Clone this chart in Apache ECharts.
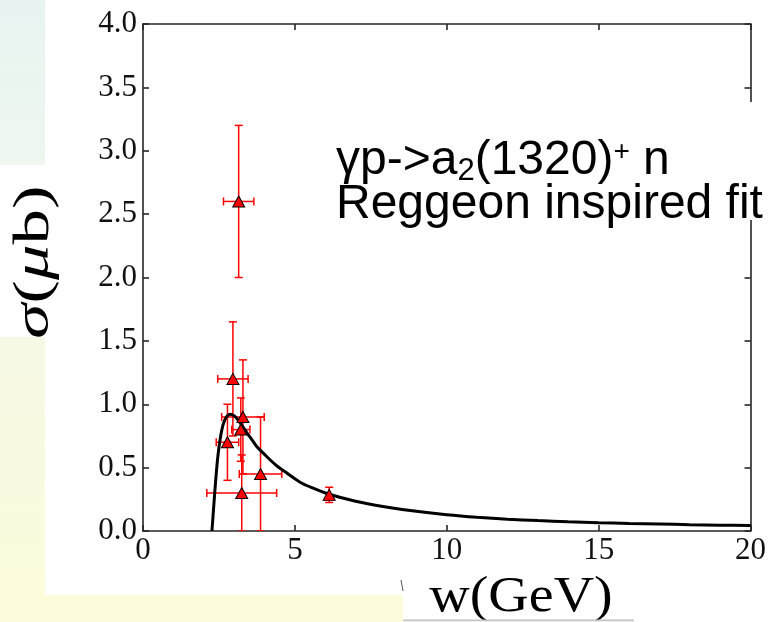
<!DOCTYPE html>
<html>
<head>
<meta charset="utf-8">
<script src="https://cdn.jsdelivr.net/npm/echarts@6/dist/echarts.min.js"></script>
<style>
  html, body { margin: 0; padding: 0; background: #ffffff; }
  #chart { width: 769px; height: 622px; }
</style>
</head>
<body>
<div id="chart"></div>
<script>
// Measured cross sections: centre-of-mass energy w (GeV), sigma (µb) and their errors
const wGeV      = [3.15, 2.96, 3.29, 3.22, 2.78, 3.25, 3.87, 6.13];
const sigma     = [2.60, 1.20, 0.90, 0.80, 0.70, 0.30, 0.45, 0.285];
const wErr      = [0.50, 0.50, 0.70, 0.30, 0.37, 1.15, 0.70, 0.00];
const sigmaErr  = [0.60, 0.45, 0.45, 0.25, 0.30, 0.30, 0.45, 0.06];

// Reggeon-inspired fit curve
const fitW     = [2.27, 2.33, 2.40, 2.47, 2.55, 2.65, 2.76, 2.87, 3.00, 3.10, 3.25, 3.42, 3.60, 3.75, 4.00, 4.19, 4.40, 4.63, 5.17, 5.60, 6.13, 7.00, 8.00, 9.00, 10.0, 11.0, 12.0, 13.0, 14.0, 15.0, 16.0, 17.0, 18.0, 19.0, 20.0];
const fitSigma = [0.00, 0.20, 0.42, 0.60, 0.74, 0.85, 0.905, 0.922, 0.91, 0.885, 0.835, 0.775, 0.715, 0.665, 0.605, 0.56, 0.515, 0.475, 0.385, 0.338, 0.29, 0.235, 0.19, 0.155, 0.128, 0.108, 0.093, 0.082, 0.073, 0.066, 0.060, 0.055, 0.050, 0.046, 0.043];

// Axis ranges and tick spacing
const xRange = [0, 20], xStep = 5;
const yRange = [0, 4], yStep = 0.5;

const points = wGeV.map((w, i) => [w, sigma[i], wErr[i], sigmaErr[i]]);
const fitLine = fitW.map((w, i) => [w, fitSigma[i]]);

const spine = { color: '#262626', width: 1.6 };
const serif = 'Liberation Serif';

function axisBase(extra) {
  return Object.assign({
    type: 'value',
    axisLine: { show: true, onZero: false, lineStyle: spine },
    axisTick: { show: true, inside: true, length: 6, lineStyle: spine },
    splitLine: { show: false }
  }, extra);
}

const chart = echarts.init(document.getElementById('chart'), null, { renderer: 'canvas' });

chart.setOption({
  backgroundColor: '#ffffff',
  animation: false,
  grid: { left: 143, right: 18, top: 24, bottom: 91, containLabel: false },
  xAxis: [
    axisBase({
      min: xRange[0], max: xRange[1], interval: xStep, position: 'bottom',
      axisLabel: { fontFamily: serif, fontSize: 31, color: '#111', margin: 4,
                   formatter: v => String(v) }
    }),
    axisBase({
      min: xRange[0], max: xRange[1], interval: xStep, position: 'top',
      axisLabel: { show: false }
    })
  ],
  yAxis: [
    axisBase({
      min: yRange[0], max: yRange[1], interval: yStep, position: 'left',
      axisLabel: { fontFamily: serif, fontSize: 31, color: '#111', margin: 6,
                   formatter: v => v.toFixed(1) }
    }),
    axisBase({
      min: yRange[0], max: yRange[1], interval: yStep, position: 'right',
      axisLabel: { show: false }
    })
  ],
  series: [
    {
      // error bars with caps
      type: 'custom',
      z: 2,
      clip: true,
      data: points,
      renderItem: function (params, api) {
        const x = api.value(0), y = api.value(1), ex = api.value(2), ey = api.value(3);
        const cap = 4;
        const style = { stroke: '#ff0000', lineWidth: 1.5 };
        const kids = [];
        if (ey > 0) {
          const t = api.coord([x, y + ey]);
          const b = api.coord([x, y - ey]);
          kids.push({ type: 'line', shape: { x1: t[0], y1: t[1], x2: b[0], y2: b[1] }, style });
          kids.push({ type: 'line', shape: { x1: t[0] - cap, y1: t[1], x2: t[0] + cap, y2: t[1] }, style });
          kids.push({ type: 'line', shape: { x1: b[0] - cap, y1: b[1], x2: b[0] + cap, y2: b[1] }, style });
        }
        if (ex > 0) {
          const l = api.coord([x - ex, y]);
          const r = api.coord([x + ex, y]);
          kids.push({ type: 'line', shape: { x1: l[0], y1: l[1], x2: r[0], y2: r[1] }, style });
          kids.push({ type: 'line', shape: { x1: l[0], y1: l[1] - cap, x2: l[0], y2: l[1] + cap }, style });
          kids.push({ type: 'line', shape: { x1: r[0], y1: r[1] - cap, x2: r[0], y2: r[1] + cap }, style });
        }
        return { type: 'group', children: kids };
      }
    },
    {
      type: 'line',
      z: 3,
      data: fitLine,
      showSymbol: false,
      smooth: 0.3,
      lineStyle: { color: '#000000', width: 3 },
      clip: true
    },
    {
      type: 'scatter',
      z: 4,
      data: points.map(p => [p[0], p[1]]),
      symbol: 'triangle',
      symbolSize: [12, 11],
      itemStyle: { color: '#ff0000', borderColor: '#000000', borderWidth: 1, opacity: 1 }
    }
  ],
  graphic: [
    // slide background strips around the figure
    {
      type: 'rect', z: -10, silent: true,
      shape: { x: 0, y: 0, width: 45, height: 595 },
      style: {
        fill: new echarts.graphic.LinearGradient(0, 0, 0, 1, [
          { offset: 0, color: '#e8f4f2' },
          { offset: 0.3, color: '#eff7ee' },
          { offset: 0.6, color: '#f6f9e4' },
          { offset: 1, color: '#fcfcdc' }
        ])
      }
    },
    {
      type: 'rect', z: -10, silent: true,
      shape: { x: 0, y: 595, width: 403, height: 27 },
      style: { fill: '#fcfcda' }
    },
    {
      type: 'rect', z: -9, silent: true,
      shape: { x: 0, y: 165, width: 45, height: 172 },
      style: { fill: '#ffffff' }
    },
    // y axis title
    {
      type: 'text', z: 20, silent: true,
      x: 35, y: 262, rotation: Math.PI / 2, scaleX: 1.42,
      style: {
        text: '{i|σ}{r|(}{i|μ}{r|b)}',
        align: 'center', verticalAlign: 'middle',
        rich: {
          i: { fontFamily: serif, fontStyle: 'italic', fontSize: 50, fill: '#000' },
          r: { fontFamily: serif, fontSize: 50, fill: '#000' }
        }
      }
    },
    // x axis title box
    {
      type: 'text', z: 20, silent: true,
      x: 521, y: 598, scaleX: 1.12,
      style: {
        text: 'w(GeV)', fontFamily: serif, fontSize: 50, fill: '#000',
        align: 'center', verticalAlign: 'middle'
      }
    },
    {
      type: 'line', z: 21, silent: true,
      shape: { x1: 403, y1: 620.5, x2: 634, y2: 620.5 },
      style: { stroke: '#c4c4c4', lineWidth: 2 }
    },
    {
      type: 'rect', z: 21, silent: true,
      shape: { x: 403, y: 621.5, width: 231, height: 1 },
      style: { fill: '#ffffff' }
    },
    {
      type: 'line', z: 21, silent: true,
      shape: { x1: 401, y1: 580, x2: 403, y2: 591 },
      style: { stroke: '#555', lineWidth: 1 }
    },
    // reaction label on a white box
    {
      type: 'rect', z: 20, silent: true,
      shape: { x: 325, y: 102, width: 444, height: 118 },
      style: { fill: '#ffffff' }
    },
    {
      type: 'text', z: 21, silent: true,
      x: 336, y: 139,
      style: {
        text: '{m|γp->a}{sub|2}{m|(1320)}{sup|+}{m| n}\n{m|Reggeon inspired fit}',
        align: 'left', verticalAlign: 'top',
        rich: {
          m: { fontFamily: 'Liberation Sans', fontSize: 48, lineHeight: 44, fill: '#000' },
          sub: { fontFamily: 'Liberation Sans', fontSize: 31, lineHeight: 44, padding: [20, 0, 0, 0], fill: '#000' },
          sup: { fontFamily: 'Liberation Sans', fontSize: 28, lineHeight: 44, padding: [0, 0, 18, 0], fill: '#000' }
        }
      }
    }
  ]
});
</script>
</body>
</html>
